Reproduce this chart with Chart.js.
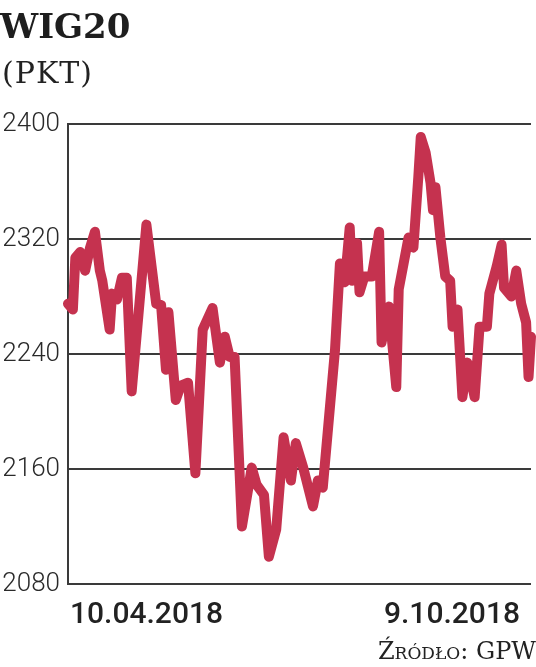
<!DOCTYPE html>
<html>
<head>
<meta charset="utf-8">
<script src="https://cdn.jsdelivr.net/npm/chart.js"></script>
<style>
	body { margin: 0; background: #fff; }
	#wrap { position: relative; width: 536px; height: 667px; overflow: hidden; }
	#wig { position: absolute; left: 0; top: 0; }
	.txt { position: absolute; white-space: nowrap; line-height: 1; color: #222; }
	#title { left: 0; top: 6px; font: bold 34px "DejaVu Serif"; color: #1e1e1e; }
	#unit { left: 2px; top: 55px; font: 30px "DejaVu Serif"; letter-spacing: 1px; }
	.xlab { top: 595px; font: 500 30px Roboto; }
	#src { right: 0; top: 637px; font: 24px "DejaVu Serif"; font-variant: small-caps; }
</style>
</head>
<body>
<div id="wrap">
	<canvas id="wig" width="536" height="667"></canvas>
	<div class="txt" id="title">WIG20</div>
	<div class="txt" id="unit">(PKT)</div>
	<div class="txt xlab" id="xFirst" style="left:70px"></div>
	<div class="txt xlab" id="xLast" style="right:16px"></div>
	<div class="txt" id="src">Źródło: GPW</div>
</div>
<script>
	// dni od 10.04.2018 (kalendarzowe, szacowane z wykresu)
	var dni = [0, 2, 3, 5, 7, 9, 11, 13, 14, 17, 18, 20, 22, 24, 26, 32, 36, 38, 40, 41,
		44, 46, 49, 52, 55, 59, 62, 64, 66, 68, 71, 75, 77, 80, 82, 85, 88, 91, 93, 96,
		100, 102, 104, 109, 111, 113, 115, 116, 118, 119, 121, 124, 127, 128, 131, 134, 135, 139, 141, 143,
		144, 146, 148, 149, 150, 152, 154, 156, 157, 159, 161, 163, 166, 168, 171, 172, 175, 177, 178, 181,
		183, 185, 187, 188, 189];
	var wig20 = [2275, 2271, 2307, 2311, 2298, 2314, 2325, 2298, 2291, 2257, 2282, 2278, 2293, 2293, 2214, 2330, 2275, 2274, 2229, 2269,
		2208, 2218, 2220, 2157, 2257, 2272, 2234, 2252, 2238, 2238, 2120, 2161, 2149, 2142, 2099, 2118, 2182, 2152, 2178, 2161,
		2134, 2152, 2147, 2243, 2303, 2290, 2328, 2291, 2317, 2283, 2294, 2294, 2325, 2248, 2273, 2217, 2285, 2321, 2314, 2363,
		2391, 2380, 2359, 2340, 2356, 2321, 2294, 2291, 2259, 2271, 2210, 2234, 2210, 2259, 2259, 2282, 2301, 2316, 2286, 2280,
		2298, 2275, 2262, 2224, 2252];
	var yTicks = [2080, 2160, 2240, 2320, 2400];
	var xLabels = ['10.04.2018', '9.10.2018'];

	document.getElementById('xFirst').textContent = xLabels[0];
	document.getElementById('xLast').textContent = xLabels[1];

	var punkty = dni.map(function (d, i) { return { x: d, y: wig20[i] }; });

	var ctx = document.getElementById('wig').getContext('2d');
	var wykres = new Chart(ctx, {
		type: 'line',
		data: {
			datasets: [{
				data: punkty,
				borderColor: '#c5324f',
				borderWidth: 10,
				borderJoinStyle: 'round',
				borderCapStyle: 'round',
				pointRadius: 0,
				tension: 0,
				fill: false,
				clip: false
			}]
		},
		options: {
			responsive: false,
			animation: false,
			layout: { padding: { top: 124, right: 5, bottom: 83, left: 0 } },
			plugins: { legend: { display: false }, tooltip: { enabled: false } },
			scales: {
				x: {
					type: 'linear',
					min: dni[0],
					max: dni[dni.length - 1],
					display: false
				},
				y: {
					min: yTicks[0],
					max: yTicks[yTicks.length - 1],
					afterBuildTicks: function (s) { s.ticks = yTicks.map(function (v) { return { value: v }; }); },
					afterFit: function (s) { s.width = 68; },
					border: { display: true, color: '#3a3a3a', width: 2 },
					grid: { color: '#3a3a3a', lineWidth: 2, drawTicks: false },
					ticks: {
						padding: 8,
						color: '#2a2a2a',
						font: { family: 'Roboto', weight: '300', size: 26 },
						callback: function (v) { return String(v); }
					}
				}
			}
		}
	});
</script>
</body>
</html>
